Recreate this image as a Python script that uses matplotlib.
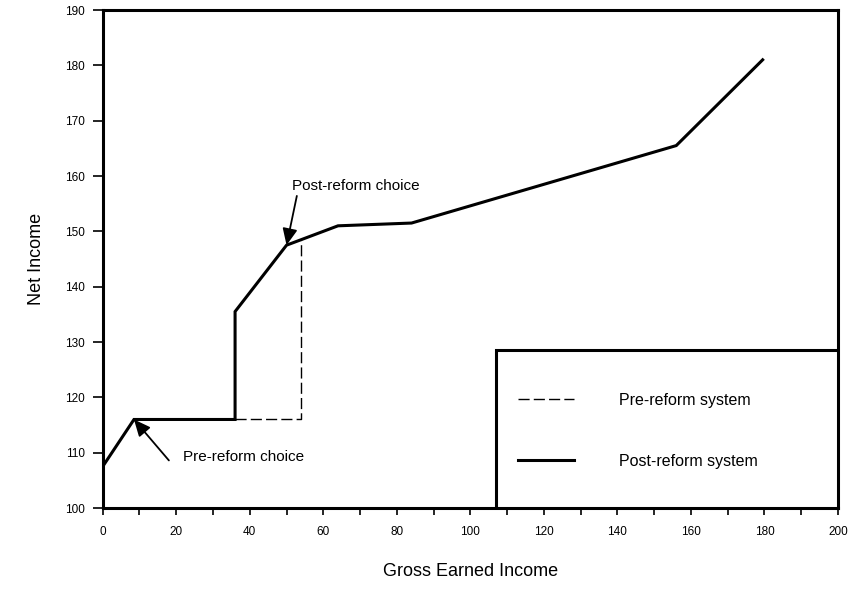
import matplotlib.pyplot as plt
from matplotlib.patches import Rectangle
from matplotlib.lines import Line2D

plt.rcParams['font.family'] = ['Liberation Sans', 'DejaVu Sans']

# post-reform budget line (gross earned income vs net income)
post_x = [0, 8.5, 36, 36, 50, 64, 84, 156, 179.5]
post_y = [107.5, 116, 116, 135.5, 147.5, 151, 151.5, 165.5, 181]

# pre-reform segment that differs from post-reform
pre_x = [36, 54, 54]
pre_y = [116, 116, 148.5]

post_choice = (50, 147.5)
pre_choice = (8.5, 116)

fig = plt.figure(figsize=(8.56, 5.89), dpi=100)
ax = fig.add_axes([0.120, 0.1375, 0.859, 0.8455])

ax.plot(pre_x, pre_y, color='black', lw=1, linestyle=(0, (8, 3)))
ax.plot(post_x, post_y, color='black', lw=2.2, solid_joinstyle='miter')

ax.set_xlim(0, 200)
ax.set_ylim(100, 190)
ax.set_xticks(range(0, 201, 20))
ax.set_xticks(range(0, 201, 10), minor=True)
ax.set_yticks(range(100, 191, 10))
ax.tick_params(axis='both', which='both', direction='out', width=1.2, labelsize=8.5)
ax.tick_params(axis='x', which='both', length=5, pad=8)
ax.tick_params(axis='y', length=7, pad=6)
for s in ax.spines.values():
    s.set_linewidth(2.2)

ax.set_xlabel('Gross Earned Income', fontsize=13, labelpad=18)
ax.set_ylabel('Net Income', fontsize=13, labelpad=14)

# annotations
arrow = dict(arrowstyle='-|>,head_length=1.0,head_width=0.45',
             color='black', lw=1.3, shrinkA=0, shrinkB=0)
ax.text(51.4, 158.2, 'Post-reform choice', fontsize=11, ha='left', va='center')
ax.annotate('', xy=post_choice, xytext=(52.8, 156.4), arrowprops=arrow)
ax.text(21.8, 109.2, 'Pre-reform choice', fontsize=11, ha='left', va='center')
ax.annotate('', xy=pre_choice, xytext=(18, 108.6), arrowprops=arrow)

# legend box
ax.add_patch(Rectangle((0.535, 0), 0.465, 0.317, transform=ax.transAxes,
                       facecolor='white', edgecolor='black', lw=2.2, zorder=3))
handles = [Line2D([], [], color='black', lw=1, linestyle=(0, (8, 3))),
           Line2D([], [], color='black', lw=2.2)]
leg = ax.legend(handles, ['Pre-reform system', 'Post-reform system'],
                loc='center left', bbox_to_anchor=(0.565, 0.155),
                frameon=False, fontsize=11.5, borderpad=0, borderaxespad=0,
                handlelength=3.5, handletextpad=2.8, labelspacing=2.9)
leg.set_zorder(4)

plt.savefig('out.png', dpi=100)
